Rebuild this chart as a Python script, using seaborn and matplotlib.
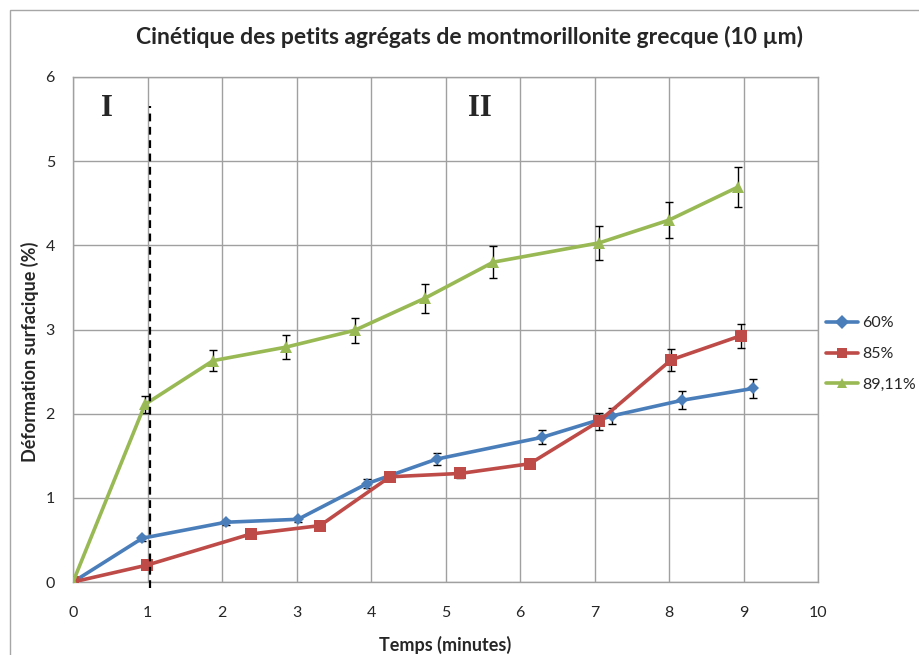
import matplotlib
matplotlib.use("Agg")
import matplotlib.pyplot as plt
import seaborn as sns
import pandas as pd
from matplotlib.patches import Rectangle

# Measured kinetics (time in minutes, surface deformation in %)
t_60 = [0.0, 0.93, 2.05, 3.02, 3.95, 4.88, 6.30, 7.24, 8.18, 9.13]
d_60 = [0.0, 0.52, 0.71, 0.745, 1.17, 1.46, 1.72, 1.975, 2.16, 2.30]
e_60 = [0.0, 0.03, 0.03, 0.03, 0.05, 0.07, 0.085, 0.095, 0.11, 0.11]

t_85 = [0.0, 0.99, 2.385, 3.315, 4.255, 5.20, 6.13, 7.06, 8.03, 8.96]
d_85 = [0.0, 0.20, 0.57, 0.67, 1.25, 1.29, 1.405, 1.91, 2.64, 2.925]
e_85 = [0.0, 0.02, 0.02, 0.02, 0.04, 0.05, 0.05, 0.10, 0.13, 0.145]

t_89 = [0.0, 0.966, 1.88, 2.855, 3.78, 4.72, 5.64, 7.065, 8.00, 8.93]
d_89 = [0.0, 2.11, 2.63, 2.79, 2.99, 3.37, 3.80, 4.03, 4.30, 4.695]
e_89 = [0.0, 0.10, 0.125, 0.14, 0.15, 0.17, 0.19, 0.20, 0.21, 0.235]

series_names = ["60%", "85%", "89,11%"]
series_colors = ["#4A7EBB", "#BE4B48", "#98B954"]
series_markers = ["D", "s", "^"]
series_sizes = [6.5, 8.5, 8.5]

x_ticks = list(range(0, 11))
y_ticks = list(range(0, 7))
phase_split = 1.03
phase_labels = ["I", "II"]
phase_label_x = [0.46, 5.46]

title = "Cinétique des petits agrégats de montmorillonite grecque (10 µm)"
x_label = "Temps (minutes)"
y_label = "Déformation surfacique (%)"

df = pd.concat([
    pd.DataFrame({"t": t, "d": d, "e": e, "serie": name})
    for t, d, e, name in zip([t_60, t_85, t_89], [d_60, d_85, d_89],
                             [e_60, e_85, e_89], series_names)
], ignore_index=True)

sns.set_theme(style="white")
plt.rcParams["font.family"] = ["Lato", "DejaVu Sans"]

W, H = 919, 655
fig = plt.figure(figsize=(W / 100, H / 100), dpi=100)
ax = fig.add_axes([73 / W, 1 - 582 / H, (818 - 73) / W, (582 - 77) / H])

# chart frame
fig.patches.append(Rectangle((10 / W, -0.1), 1.2, 1 - 10 / H + 0.1,
                             transform=fig.transFigure, fill=False,
                             edgecolor="#A6A6A6", linewidth=1.0, zorder=0))

for name, color, mk, ms in zip(series_names, series_colors, series_markers, series_sizes):
    sub = df[df["serie"] == name]
    ax.errorbar(sub["t"], sub["d"], yerr=sub["e"], fmt="none", ecolor="black",
                elinewidth=1.0, capsize=3.2, capthick=1.0, zorder=2)
    sns.lineplot(data=sub, x="t", y="d", ax=ax, color=color, linewidth=2.6,
                 marker=mk, markersize=ms, markeredgewidth=0, sort=False,
                 label=name, zorder=3, errorbar=None)

ax.plot([phase_split, phase_split], [-0.07, 5.65], linestyle=(0, (3.5, 2.5)),
        color="black", linewidth=1.6, clip_on=False, zorder=4)

for lab, lx in zip(phase_labels, phase_label_x):
    ax.text(lx, 5.63, lab, ha="center", va="center", fontsize=22,
            fontweight="bold", family=["Liberation Serif", "DejaVu Serif"])

ax.set_xlim(0, 10)
ax.set_ylim(0, 6)
ax.set_xticks(x_ticks)
ax.set_yticks(y_ticks)
ax.set_xticklabels([str(v) for v in x_ticks])
ax.set_yticklabels([str(v) for v in y_ticks])
ax.tick_params(axis="x", length=0, pad=17, labelsize=11.5)
ax.tick_params(axis="y", length=0, pad=13, labelsize=11.5)
ax.grid(True, color="#A0A0A0", linewidth=1.0)
ax.set_axisbelow(True)
for side, sp in ax.spines.items():
    sp.set_color("#A0A0A0")
    sp.set_linewidth(1.0)
ax.set_xlabel("")
ax.set_ylabel("")

fig.text(469.5 / W, 1 - 37 / H, title, ha="center", va="center",
         fontsize=16.5, fontweight="bold")
fig.text(445 / W, 1 - 645 / H, x_label, ha="center", va="center",
         fontsize=13, fontweight="bold")
fig.text(30 / W, 1 - 352 / H, y_label, ha="center", va="center",
         rotation=90, fontsize=13, fontweight="bold")

leg = ax.legend(loc="upper left", bbox_to_anchor=(826 / W, 1 - 316 / H),
                bbox_transform=fig.transFigure, frameon=False, fontsize=11.5,
                handlelength=2.0, handletextpad=0.25, labelspacing=1.05,
                borderaxespad=0, borderpad=0)
for h in leg.legend_handles:
    h.set_markersize(7)

fig.savefig("out.png", dpi=100)
